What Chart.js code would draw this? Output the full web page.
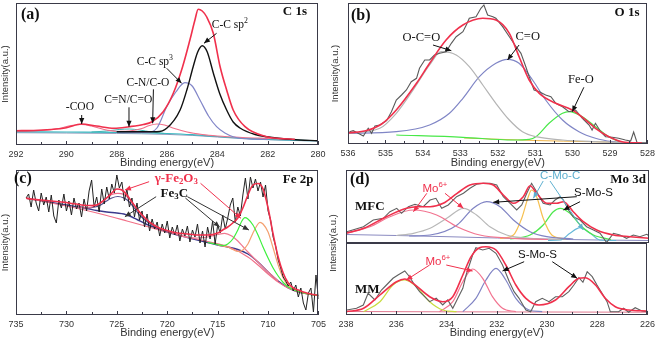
<!DOCTYPE html>
<html>
<head>
<meta charset="utf-8">
<script src="https://cdn.jsdelivr.net/npm/chart.js@4.4.1/dist/chart.umd.min.js"></script>
<style>
  html, body { margin: 0; padding: 0; background: #fff; }
  #wrap { position: relative; width: 659px; height: 340px; overflow: hidden; }
  #wrap canvas { position: absolute; }
  #dTitle {
    position: absolute; left: 293px; top: 237px; width: 80px; height: 12px;
    line-height: 12px; text-align: center; white-space: nowrap;
    font: 9.5px 'Liberation Sans', Arial, sans-serif; color: #333;
    transform: rotate(-90deg);
  }
</style>
</head>
<body>
<div id="wrap">
  <canvas id="cA" width="330" height="170" style="left:0;top:0"></canvas>
  <canvas id="cB" width="329" height="170" style="left:330px;top:0"></canvas>
  <canvas id="cC" width="330" height="175" style="left:0;top:165px"></canvas>
  <canvas id="cD1" width="329" height="78" style="left:330px;top:165px"></canvas>
  <canvas id="cD2" width="329" height="97" style="left:330px;top:243px"></canvas>
  <div id="dTitle">Intensity(a.u.)</div>
</div>
<script>
// ---------- (a) C 1s ----------
const aTicks = [292, 290, 288, 286, 284, 282, 280];
const aMinor = [291, 289, 287, 285, 283, 281];
const aRedE = [292, 291.3, 290.6, 290.0, 289.4, 288.8, 288.1, 287.5, 286.94, 286.61, 286.15, 285.75, 285.38, 285.09, 284.89, 284.76, 284.6, 284.42, 284.16, 283.89, 283.63, 283.37, 282.9, 282.04, 281.5, 280.92];
const aRedI = [13.3, 13.5, 14.5, 16.3, 20, 18, 15.7, 17.3, 19.5, 22, 32.3, 50.7, 77.3, 104, 124, 134.7, 133, 127, 110.7, 77.3, 54, 34, 17.3, 7.3, 5.5, 4.7];
const aSp2E = [288, 287, 286.4, 286, 285.48, 285.2, 284.96, 284.78, 284.6, 284.4, 284.16, 283.9, 283.63, 283.37, 283.1, 282.5, 282.04, 281, 280];
const aSp2I = [12.3, 12.3, 12.3, 16, 34, 55, 77.3, 92, 98.3, 92, 71, 50, 34, 22, 16, 9.5, 7.3, 4.5, 3.3];
const aSp3E = [288, 287.2, 286.81, 286.4, 286.01, 285.65, 285.29, 285, 284.69, 284.35, 284.03, 283.7, 283.37, 283, 282.5, 282];
const aSp3I = [12, 11.6, 11.5, 16, 37.3, 52, 61.3, 58, 44, 28, 17.3, 11, 7.3, 5.5, 4.8, 4.5];
const aCnE = [288, 287.5, 287, 286.7, 286.4, 286.1, 285.7, 285.2, 284.6, 284, 283, 282, 281];
const aCnI = [12.5, 13, 15.5, 18.5, 20, 19, 15.5, 12, 9.5, 8, 6.5, 5.5, 4.5];
const aCooE = [292, 291, 290.3, 289.8, 289.4, 289, 288.5, 288];
const aCooI = [13, 13.5, 15.5, 18.5, 19.5, 18, 14.5, 12.5];
const aCnoE = [289, 288.4, 287.9, 287.5, 287.1, 286.6, 286.1];
const aCnoI = [12, 13, 14.5, 15, 14, 12, 10.5];
const aBgE = [292, 290, 288, 287, 286, 285, 284, 283, 282, 281, 280];
const aBgI = [12.3, 12, 11.7, 11.3, 10.5, 9.3, 7.5, 5.8, 4.7, 3.8, 3.3];
const aBg2I = [11.3, 11, 10.6, 10.2, 9.6, 8.6, 7, 5.4, 4.3, 3.5, 3];

// ---------- (b) O 1s ----------
const bTicks = [536, 535, 534, 533, 532, 531, 530, 529, 528];
const bMinor = [535.5, 534.5, 533.5, 532.5, 531.5, 530.5, 529.5, 528.5];
const bRawE = [535.96, 535.86, 535.73, 535.59, 535.46, 535.37, 535.28, 535.15, 534.97, 534.84, 534.71, 534.57, 534.44, 534.31, 534.17, 534.09, 533.95, 533.82, 533.69, 533.55, 533.38, 533.24, 533.11, 532.93, 532.84, 532.76, 532.58, 532.45, 532.37, 532.27, 532.13, 532.05, 531.87, 531.69, 531.51, 531.38, 531.25, 531.16, 531.03, 530.89, 530.72, 530.58, 530.45, 530.27, 530.10, 529.92, 529.74, 529.56, 529.48, 529.39, 529.25, 529.12, 528.94, 528.77, 528.59, 528.45, 528.37, 528.28, 528.15, 528.01];
const bRawI = [11.3, 12.3, 9.7, 7, 14.7, 9.7, 17, 18, 22.3, 31.3, 43, 48, 53, 61.3, 64.7, 74.7, 83, 83, 88, 89.7, 91.3, 99.7, 106.3, 111.3, 118, 124.7, 126.3, 134.7, 138, 128, 126.3, 124.7, 116.3, 106.3, 96.3, 89.7, 76.3, 66.3, 53, 51.3, 48, 46.3, 39.7, 36.3, 31.3, 33, 24.7, 18, 13, 19.7, 11.3, 6.3, 5.7, 4.7, 3, 2, 11, 0.5, 0.3, 0.3];
const bRedE = [536, 535.5, 535.1, 534.71, 534.17, 533.82, 533.38, 532.93, 532.4, 532.05, 531.69, 531.43, 531.16, 530.89, 530.45, 530.01, 529.65, 529.39, 529.03, 528.68, 528.15];
const bRedI = [10, 12.5, 19, 33, 59.7, 79.7, 103, 118, 124.7, 123, 109.7, 86.3, 63, 49.7, 39.7, 33, 23, 14.7, 6.3, 1.3, 0];
const bOcoE = [536, 535.15, 534.71, 534.26, 533.82, 533.51, 533.11, 532.76, 532.4, 532.05, 531.69, 531.34, 530.98, 530.27, 529.39, 528.5];
const bOcoI = [9.7, 14.7, 29.7, 53, 78, 91.3, 88, 76.3, 58, 39.7, 23, 11.3, 6.3, 3, 1.3, 0.3];
const bCoE = [536, 534.71, 533.82, 533.29, 532.93, 532.49, 532.05, 531.74, 531.43, 531.07, 530.72, 530.27, 529.83, 529.39, 528.94, 528.5];
const bCoI = [9.7, 11.3, 18, 29.7, 44.7, 66.3, 79.7, 83.7, 79.7, 63, 43, 23, 11.3, 4.7, 1.3, 0];
const bFeoE = [534.71, 532.93, 531.6, 531.16, 530.98, 530.63, 530.27, 530.1, 529.74, 529.39, 529.03, 528.68];
const bFeoI = [8, 5.7, 3, 3.7, 6.3, 19.7, 29.7, 31.3, 26.3, 16.3, 6.3, 0.3];
const bBgE = [532.9, 531, 529.5, 528.5];
const bBgI = [5, 2.5, 1.3, 0.5];

// ---------- (c) Fe 2p ----------
const cTicks = [735, 730, 725, 720, 715, 710, 705];
const cMinor = [732.5, 727.5, 722.5, 717.5, 712.5, 707.5];
const cRawE = [734, 733.75, 733.5, 733.25, 733, 732.75, 732.5, 732.25, 732, 731.75, 731.5, 731.25, 731, 730.75, 730.5, 730.25, 730, 729.75, 729.5, 729.25, 729, 728.75, 728.5, 728.25, 728, 727.75, 727.5, 727.25, 727, 726.75, 726.5, 726.25, 726, 725.75, 725.5, 725.25, 725, 724.75, 724.5, 724.25, 724, 723.75, 723.5, 723.25, 723, 722.75, 722.5, 722.25, 722, 721.75, 721.5, 721.25, 721, 720.75, 720.5, 720.25, 720, 719.75, 719.5, 719.25, 719, 718.75, 718.5, 718.25, 718, 717.75, 717.5, 717.25, 717, 716.75, 716.5, 716.25, 716, 715.75, 715.5, 715.25, 715, 714.75, 714.5, 714.25, 714, 713.75, 713.5, 713.25, 713, 712.75, 712.5, 712.25, 712, 711.75, 711.5, 711.25, 711, 710.75, 710.5, 710.25, 710, 709.75, 709.5, 709.25, 709, 708.75, 708.5, 708.25, 708, 707.75, 707.5, 707.25, 707, 706.75, 706.5, 706.25, 706, 705.75, 705.5, 705.25, 705];
const cRawI = [117, 121, 108, 125, 112, 104, 122, 110, 118, 103, 120, 99, 92, 115, 107, 121, 104, 114, 100, 117, 106, 112, 98, 116, 104, 124, 135, 108, 118, 103, 126, 111, 128, 116, 131, 122, 140, 127, 133, 114, 126, 108, 117, 98, 112, 95, 104, 88, 101, 84, 96, 86, 93, 79, 91, 82, 94, 77, 88, 80, 90, 74, 86, 79, 89, 73, 85, 78, 91, 72, 84, 68, 88, 76, 94, 71, 90, 82, 100, 86, 97, 110, 117, 93, 108, 99, 120, 137, 116, 138, 127, 136, 124, 133, 118, 130, 104, 95, 78, 69, 55, 47, 38, 34, 29, 33, 24, 30, 18, 27, 12, 5, 22, 27, 3, 40, 16];
const cRedE = [734, 733.5, 733, 732.5, 732, 731.5, 731, 730.5, 730, 729.5, 729, 728.5, 728, 727.5, 727, 726.5, 726, 725.5, 725, 724.5, 724, 723.5, 723, 722.5, 722, 721.5, 721, 720.5, 720, 719.5, 719, 718.5, 718, 717.5, 717, 716.5, 716, 715.5, 715, 714.5, 714, 713.5, 713, 712.5, 712, 711.5, 711, 710.5, 710, 709.5, 709, 708.5, 708, 707.5, 707, 706.5, 706, 705.5, 705];
const cRedI = [117, 116, 115.5, 115, 114.5, 114, 113.5, 113, 112.5, 111.5, 111, 110, 109.5, 109.5, 110, 113, 117, 122, 126, 125, 120, 113, 106, 100, 95, 91, 88, 86, 84.5, 83, 82, 81.5, 81, 80.5, 80, 80, 80, 80.5, 82, 85, 88, 92, 97, 107, 120, 130, 131.5, 126, 107, 81, 58, 42, 32, 27, 25, 23, 21.5, 20.5, 19.5];
const cBaseE = [734, 732, 730, 728, 727, 726, 725, 724.3, 723.5, 723, 722, 721, 720, 719, 718, 717, 716, 715, 714, 713, 712, 711, 710, 709, 708, 707, 706, 705];
const cBaseI = [116.7, 113.5, 110, 106.5, 104.5, 103, 102, 101, 98, 95.5, 90.5, 86.5, 83, 80, 77.5, 75, 72.5, 70, 68, 65.5, 61, 53, 43, 34, 27, 23, 21, 19.5];
const cBg2E = [734, 732, 730, 728, 726, 724, 722, 720, 718, 716, 714, 712, 711, 710, 709, 708, 707, 706, 705];
const cBg2I = [116.7, 113, 109, 104.5, 99.5, 94, 88.5, 83, 78, 73.5, 68.5, 58, 50, 41, 33, 27, 23, 21, 19.5];
const cP725E = [729, 728, 727.4, 726.6, 726.1, 725.5, 724.9, 724.3, 723.8, 723.2, 722.8, 722.2, 721.8, 721, 720];
const cP725I = [108.5, 107, 108.3, 112, 116.7, 120.5, 121.7, 120.5, 116.7, 109, 103.3, 97, 93.3, 88, 84];
const cN725I = [109.5, 107, 107.5, 110, 113.5, 117, 118.5, 117, 113.5, 106, 100.5, 95, 92, 87.5, 83.5];
const cSatE = [719, 718, 717, 716, 715, 714.3, 713.6, 713, 712.5, 712, 711, 710, 709];
const cSatI = [80, 77.5, 77, 78, 80.5, 81.7, 79, 74, 68.5, 63, 53, 43, 34];
const cGreenE = [716, 715, 714.4, 714, 713.5, 713, 712.6, 712.3, 712, 711.5, 711, 710.5, 710, 709.5, 709, 708.5, 708, 707, 706, 705];
const cGreenI = [72.5, 70.5, 69.5, 71, 76, 85, 94, 97.3, 96, 90, 80, 68, 57, 47, 39, 32.5, 28, 23.5, 21, 19.5];
const cPeachE = [715, 714, 713.5, 713, 712.5, 712, 711.5, 711, 710.8, 710.5, 710, 709.5, 709, 708.5, 708, 707, 706, 705];
const cPeachI = [70, 68, 65.5, 63.5, 65, 71, 82, 91, 92.7, 91, 83, 67, 50, 37, 29, 23.5, 21, 19.5];

// ---------- (d) Mo 3d ----------
const dTicks = [238, 236, 234, 232, 230, 228, 226];
const dMinor = [237, 235, 233, 231, 229, 227];
// MFC
const mfcRawE = [237.97, 237.31, 236.92, 236.52, 236.26, 235.99, 235.8, 235.53, 235.27, 234.94, 234.67, 234.44, 234.21, 233.95, 233.62, 233.35, 233.09, 232.83, 232.56, 232.3, 232.03, 231.77, 231.5, 231.24, 231.04, 230.84, 230.65, 230.45, 230.19, 229.92, 229.72, 229.52, 229.39, 229.19, 229, 228.73, 228.47, 228.2, 227.94, 227.68, 227.41, 227.15, 226.89, 226.62, 226.36, 226.09, 226];
const mfcRawI = [11.3, 16.3, 23, 24.7, 31.3, 34.7, 29.7, 36.3, 38.7, 36.3, 43, 44.7, 34.7, 38, 46.3, 49.7, 54.7, 58.7, 59.7, 59.7, 58, 46.3, 39.7, 33, 38, 49.7, 59.7, 51.3, 39.7, 38, 43, 46.3, 43, 33, 26.3, 23, 16.3, 13, 9.7, 0.5, 9.7, 8, 4.7, 8, 6.3, 8.7, 7.3];
const mfcRedE = [238, 237.3, 236.4, 235.6, 235.2, 234.67, 234.15, 233.6, 233.09, 232.56, 232.17, 231.77, 231.37, 230.98, 230.71, 230.45, 230.05, 229.66, 229.39, 229, 228.6, 228.07, 227.41, 226.75, 226];
const mfcRedI = [9.7, 14.7, 26.3, 34.7, 36.3, 36.3, 39.7, 49.7, 58, 59.7, 58, 48, 39.7, 46.3, 57.3, 49.7, 39.7, 39.7, 41.3, 31.3, 21.3, 13, 8, 6.3, 4.7];
const mfcMo6E = [238, 237.05, 236.26, 235.33, 234.41, 233.6, 232.7, 231.4, 230];
const mfcMo6I = [9.7, 16.3, 26.3, 33, 28, 16.3, 8, 4.7, 3.5];
const mfcMo6bE = [236, 235.33, 234.67, 234.01, 233.35, 232.83, 232.3, 231.64, 230.71, 229.5];
const mfcMo6bI = [7.5, 9.7, 14.7, 24.7, 34.7, 28, 16.3, 8, 4.7, 3.5];
const mfcSmsE = [235.5, 234.67, 233.6, 232.96, 232.43, 231.9, 231.37, 230.71, 230.05, 229];
const mfcSmsI = [7, 8, 18, 34.7, 41.3, 36.3, 23, 11.3, 6.3, 4];
const mfcCmcE = [231.9, 231.37, 231.04, 230.78, 230.65, 230.45, 230.19, 229.85, 229.3];
const mfcCmcI = [4.5, 8, 24.7, 46.3, 53, 46.3, 24.7, 8, 4];
const mfcGreenE = [231.5, 230.71, 230.19, 229.79, 229.52, 229.13, 228.73, 228.2, 227.5];
const mfcGreenI = [4, 8, 18, 31.3, 34.7, 29.7, 18, 8, 3.5];
const mfcCyanE = [230, 229.5, 229.13, 228.73, 228.33, 227.94, 227.3];
const mfcCyanI = [2.5, 3, 9.7, 15.3, 9.7, 3, 2.5];
const mfcBgE = [238, 236, 234, 232, 230, 228, 226];
const mfcBgI = [8.5, 7.5, 6.3, 5, 3.8, 3, 2.5];
// MM
const mmRawE = [237.97, 237.58, 237.31, 237.12, 236.85, 236.59, 236.39, 236.13, 235.93, 235.66, 235.47, 235.27, 235.07, 234.87, 234.67, 234.41, 234.15, 233.95, 233.75, 233.55, 233.35, 233.22, 233.09, 232.96, 232.83, 232.56, 232.3, 232.03, 231.77, 231.5, 231.31, 231.11, 230.84, 230.65, 230.45, 230.19, 229.92, 229.66, 229.39, 229.13, 228.93, 228.73, 228.57, 228.4, 228.2, 228.01, 227.81, 227.61, 227.48, 227.15, 226.95, 226.75, 226.49, 226.22, 226];
const mmRawI = [5, 6.7, 10, 21.7, 15, 25, 30, 36.7, 40, 44, 38.3, 30, 23.3, 18.3, 13.3, 16.7, 10, 15, 6.7, 16.7, 26.7, 40, 50, 60, 67.3, 65, 66.7, 61.7, 50, 33.3, 23.3, 16.7, 5, 3.3, 13.3, 16.7, 13.3, 18.3, 18.3, 23.3, 30, 37.3, 32.7, 43.3, 38.3, 30, 21.7, 13.3, 3.3, 3.3, 6.7, 2.7, 7.3, 4, 3.3];
const mmRedE = [238, 237.3, 236.65, 235.99, 235.66, 235.33, 234.67, 234.15, 233.75, 233.35, 233.02, 232.69, 232.43, 232.03, 231.64, 231.24, 230.84, 230.32, 229.66, 229.13, 228.73, 228.47, 228.07, 227.68, 227.28, 226.75, 226];
const mmRedI = [3.3, 6.7, 20, 33.3, 36, 31.7, 18.3, 13.3, 18.3, 40, 58.3, 67.3, 68.3, 65, 50, 30, 16.7, 10, 15, 28.3, 36.7, 37.3, 30, 16.7, 8.3, 5, 4];
const mmMo6aE = [237.3, 236.65, 236.13, 235.66, 235.2, 234.67, 234.15, 233.6];
const mmMo6aI = [3.3, 13.3, 30, 35, 28.3, 13.3, 5, 3.3];
const mmMo6bE = [234.28, 233.75, 233.35, 232.96, 232.56, 232.17, 231.77, 231.24];
const mmMo6bI = [3.3, 13.3, 33.3, 46, 36.7, 18.3, 6.7, 3.3];
const mmSmsE = [233.35, 232.83, 232.43, 232.03, 231.64, 231.24, 230.71, 230.19];
const mmSmsI = [3.3, 16.7, 35, 46.7, 35, 16.7, 5, 3.3];
const mmBgE = [238, 234, 230, 226];
const mmBgI = [3.5, 3.2, 3, 2.8];

const AXIS = '#3a3a48';
const SANS = "'Liberation Sans', Arial, sans-serif";
const SERIF = "'Liberation Serif', 'Times New Roman', serif";
Chart.defaults.font.family = SANS;

// split "Fe_3C", "sp^3", "Mo^{6+}" into plain / sub / sup runs
function richParts(str) {
  const parts = [];
  let i = 0;
  while (i < str.length) {
    const c = str[i];
    if (c === '_' || c === '^') {
      let s;
      if (str[i + 1] === '{') { const j = str.indexOf('}', i); s = str.slice(i + 2, j); i = j + 1; }
      else { s = str[i + 1]; i += 2; }
      parts.push({ s, k: c === '_' ? 'sub' : 'sup' });
    } else {
      let j = i;
      while (j < str.length && str[j] !== '_' && str[j] !== '^') j++;
      parts.push({ s: str.slice(i, j), k: '' });
      i = j;
    }
  }
  return parts;
}

function drawRich(ctx, str, x, y, f, color, align) {
  const parts = richParts(str);
  const fontOf = p => `${f.weight || 'normal'} ${p.k ? f.size * 0.68 : f.size}px ${f.family}`;
  let w = 0;
  parts.forEach(p => { ctx.font = fontOf(p); p.w = ctx.measureText(p.s).width; w += p.w; });
  let cx = align === 'left' ? x : align === 'right' ? x - w : x - w / 2;
  ctx.fillStyle = color;
  ctx.textBaseline = 'middle';
  ctx.textAlign = 'left';
  parts.forEach(p => {
    ctx.font = fontOf(p);
    const dy = p.k === 'sub' ? f.size * 0.28 : p.k === 'sup' ? -f.size * 0.32 : 0;
    ctx.fillText(p.s, cx, y + dy);
    cx += p.w;
  });
}

function arrow(ctx, x1, y1, x2, y2, color, head) {
  ctx.strokeStyle = color;
  ctx.fillStyle = color;
  ctx.lineWidth = 1;
  ctx.beginPath(); ctx.moveTo(x1, y1); ctx.lineTo(x2, y2); ctx.stroke();
  if (!head) return;
  const a = Math.atan2(y2 - y1, x2 - x1);
  const L = 6, W = 2.6;
  ctx.beginPath();
  ctx.moveTo(x2, y2);
  ctx.lineTo(x2 - L * Math.cos(a) + W * Math.sin(a), y2 - L * Math.sin(a) - W * Math.cos(a));
  ctx.lineTo(x2 - L * Math.cos(a) - W * Math.sin(a), y2 - L * Math.sin(a) + W * Math.cos(a));
  ctx.closePath();
  ctx.fill();
}

// box frame, inward ticks, labels and arrows
const decor = {
  id: 'decor',
  afterDatasetsDraw(chart, args, o) {
    const { ctx, chartArea: a } = chart;
    const sx = chart.scales.x, sy = chart.scales.y;
    const L = Math.round(a.left), T = Math.round(a.top), R = Math.round(a.right), B = Math.round(a.bottom);
    ctx.save();
    ctx.strokeStyle = AXIS;
    ctx.lineWidth = 1;
    ctx.strokeRect(L + 0.5, T + 0.5, R - L - 1, B - T - 1);
    if (o.ticks) {
      ctx.beginPath();
      o.ticks.forEach(v => { const p = Math.round(sx.getPixelForValue(v)) + 0.5; ctx.moveTo(p, B); ctx.lineTo(p, B - 4); });
      (o.minor || []).forEach(v => { const p = Math.round(sx.getPixelForValue(v)) + 0.5; ctx.moveTo(p, B); ctx.lineTo(p, B - 3); });
      ctx.stroke();
    }
    (o.arrows || []).forEach(r => {
      arrow(ctx, sx.getPixelForValue(r.from[0]), sy.getPixelForValue(r.from[1]),
        sx.getPixelForValue(r.to[0]), sy.getPixelForValue(r.to[1]), r.color || '#111', r.head !== false);
    });
    (o.notes || []).forEach(n => {
      drawRich(ctx, n.t, sx.getPixelForValue(n.x), sy.getPixelForValue(n.y), n.f, n.color || '#111', 'center');
    });
    (o.corner || []).forEach(c => {
      const x = c.align === 'right' ? a.right - c.dx : a.left + c.dx;
      drawRich(ctx, c.t, x, a.top + c.dy, c.f, c.color || '#111', c.align);
    });
    ctx.restore();
  }
};

const serif = (size, weight) => ({ size, weight: weight || 'normal', family: SERIF });
const sans = size => ({ size, weight: 'normal', family: SANS });

function panel(id, p) {
  const datasets = p.series.map(s => ({
    data: s.xs.map((x, i) => ({ x, y: s.ys[i] })),
    borderColor: s.color,
    borderWidth: s.w || 1,
    pointRadius: 0,
    fill: false,
    tension: s.raw ? 0 : 0.4,
    cubicInterpolationMode: s.raw ? 'default' : 'monotone'
  }));
  const showX = p.showX !== false;
  return new Chart(document.getElementById(id), {
    type: 'line',
    data: { datasets },
    plugins: [decor],
    options: {
      responsive: false,
      animation: false,
      devicePixelRatio: 1,
      layout: { padding: { left: 0, top: p.padTop, right: p.padRight, bottom: 0 } },
      plugins: {
        legend: { display: false },
        tooltip: { enabled: false },
        decor: {
          ticks: showX ? p.ticks : null, minor: p.minor,
          notes: p.notes, arrows: p.arrows, corner: p.corner
        }
      },
      scales: {
        x: {
          type: 'linear', reverse: true, min: p.xMin, max: p.xMax, display: showX,
          grid: { display: false, drawTicks: false },
          border: { display: false },
          afterBuildTicks: s => { s.ticks = p.ticks.map(v => ({ value: v })); },
          // hidden axis keeps zero height so the plot fills the canvas
          afterFit: s => { s.height = showX ? (p.xHeight || 25) : 0; },
          ticks: { color: '#333', font: { size: 9 }, padding: 4, maxRotation: 0, autoSkip: false },
          title: { display: true, text: 'Binding energy(eV)', color: '#333', font: { size: 11 }, padding: { top: 0, bottom: 0 } }
        },
        y: {
          type: 'linear', min: p.yMin || 0, max: p.yMax,
          grid: { display: false, drawTicks: false },
          border: { display: false },
          ticks: { display: false },
          afterFit: s => { s.width = p.yWidth; },
          title: { display: p.yTitle !== false, text: 'Intensity(a.u.)', color: '#333', font: { size: 9.5 }, padding: { top: 0, bottom: 0 } }
        }
      }
    }
  });
}

const RED = '#f0304c';

// (a)
panel('cA', {
  xMin: 280, xMax: 292, yMin: -1, yMax: 141, padTop: 3, padRight: 12, yWidth: 16, xHeight: 25,
  ticks: aTicks, minor: aMinor,
  series: [
    { xs: aRedE, ys: aRedI, color: RED, w: 1.6 },
    { xs: aSp2E, ys: aSp2I, color: '#111111', w: 1.4 },
    { xs: aSp3E, ys: aSp3I, color: '#8286c8', w: 1.2 },
    { xs: aCnE, ys: aCnI, color: '#f2708a', w: 1.2 },
    { xs: aCooE, ys: aCooI, color: '#f06a86', w: 1.2 },
    { xs: aCnoE, ys: aCnoI, color: '#40b4b4', w: 1 },
    { xs: aBgE, ys: aBgI, color: '#38b8c0', w: 1.2 },
    { xs: aBgE, ys: aBg2I, color: '#8c96b8', w: 1 }
  ],
  notes: [
    { t: 'C-C sp^2', x: 283.5, y: 119, f: serif(11.5) },
    { t: 'C-C sp^3', x: 286.48, y: 82.3, f: serif(11.5) },
    { t: 'C-N/C-O', x: 286.76, y: 60.7, f: serif(11.5) },
    { t: 'C=N/C=O', x: 287.54, y: 44, f: serif(11.5) },
    { t: '-COO', x: 289.46, y: 36.7, f: serif(11.5) }
  ],
  arrows: [
    { from: [284.03, 110.7], to: [284.53, 100.7] },
    { from: [286.01, 75.7], to: [285.42, 60.7] },
    { from: [286.54, 54.7], to: [286.57, 20.7] },
    { from: [287.51, 36.7], to: [287.51, 17.3] },
    { from: [289.39, 29], to: [289.39, 20] }
  ],
  corner: [
    { t: '(a)', dx: 5, dy: 12, f: serif(16, 'bold'), align: 'left' },
    { t: 'C 1s', dx: 11, dy: 9, f: serif(13, 'bold'), align: 'right' }
  ]
});

// (b)
panel('cB', {
  xMin: 528, xMax: 536, yMin: -1, yMax: 140, padTop: 3, padRight: 10, yWidth: 18, xHeight: 26,
  ticks: bTicks, minor: bMinor,
  series: [
    { xs: bRedE, ys: bRedI, color: RED, w: 1.6 },
    { xs: bRawE, ys: bRawI, color: '#5a5a5a', w: 1.1, raw: true },
    { xs: bOcoE, ys: bOcoI, color: '#b4b4b4', w: 1.2 },
    { xs: bCoE, ys: bCoI, color: '#8086c6', w: 1.2 },
    { xs: bFeoE, ys: bFeoI, color: '#48e848', w: 1.2 },
    { xs: bBgE, ys: bBgI, color: '#f0b448', w: 1 }
  ],
  notes: [
    { t: 'O-C=O', x: 534.04, y: 105, f: serif(12.5) },
    { t: 'C=O', x: 531.2, y: 106, f: serif(12.5) },
    { t: 'Fe-O', x: 529.78, y: 63, f: serif(12.5) }
  ],
  arrows: [
    { from: [533.73, 98], to: [533.24, 92.3] },
    { from: [531.43, 98], to: [531.74, 83] },
    { from: [529.7, 55.7], to: [530.01, 31.3] }
  ],
  corner: [
    { t: '(b)', dx: 3, dy: 13, f: serif(16, 'bold'), align: 'left' },
    { t: 'O 1s', dx: 8, dy: 10, f: serif(13, 'bold'), align: 'right' }
  ]
});

// (c)
panel('cC', {
  xMin: 705, xMax: 735, yMin: 0, yMax: 145, padTop: 5, padRight: 10, yWidth: 16, xHeight: 25,
  ticks: cTicks, minor: cMinor,
  series: [
    { xs: cRedE, ys: cRedI, color: RED, w: 1.6 },
    { xs: cRawE, ys: cRawI, color: '#222222', w: 1, raw: true },
    { xs: cP725E, ys: cP725I, color: '#f06c8c', w: 1.2 },
    { xs: cP725E, ys: cN725I, color: '#54508e', w: 1.2 },
    { xs: cGreenE, ys: cGreenI, color: '#3ef03e', w: 1.2 },
    { xs: cPeachE, ys: cPeachI, color: '#f4a070', w: 1.2 },
    { xs: cSatE, ys: cSatI, color: '#f07890', w: 1.2 },
    { xs: cBg2E, ys: cBg2I, color: '#f27088', w: 1.2 },
    { xs: cBaseE, ys: cBaseI, color: '#3c3a8c', w: 1.4 }
  ],
  notes: [
    { t: 'γ-Fe_2O_3', x: 719.1, y: 136.7, f: serif(13, 'bold'), color: '#f0304c' },
    { t: 'Fe_3C', x: 719.3, y: 121.7, f: serif(13, 'bold') }
  ],
  arrows: [
    { from: [721.8, 133.3], to: [724.2, 125], color: '#f0304c' },
    { from: [716.7, 131.7], to: [712.7, 96.7], color: '#f0304c' },
    { from: [721.1, 118.3], to: [724.2, 98.3], color: '#333' },
    { from: [718.2, 117], to: [714.8, 88], color: '#333' },
    { from: [718, 118.3], to: [711.9, 85], color: '#333' }
  ],
  corner: [
    { t: '(c)', dx: -2, dy: 9, f: serif(16, 'bold'), align: 'left' },
    { t: 'Fe 2p', dx: 5, dy: 10, f: serif(13, 'bold'), align: 'right' }
  ]
});

// (d) MFC, upper half
panel('cD1', {
  xMin: 226, xMax: 238, yMin: 0, yMax: 73, padTop: 5, padRight: 10, yWidth: 16, showX: false, yTitle: false,
  ticks: dTicks, minor: dMinor,
  series: [
    { xs: mfcRedE, ys: mfcRedI, color: RED, w: 1.6 },
    { xs: mfcRawE, ys: mfcRawI, color: '#606060', w: 1.1, raw: true },
    { xs: mfcMo6E, ys: mfcMo6I, color: '#f27490', w: 1.2 },
    { xs: mfcMo6bE, ys: mfcMo6bI, color: '#b8b8b8', w: 1.2 },
    { xs: mfcSmsE, ys: mfcSmsI, color: '#8084c4', w: 1.2 },
    { xs: mfcCmcE, ys: mfcCmcI, color: '#f6c050', w: 1.2 },
    { xs: mfcGreenE, ys: mfcGreenI, color: '#4ee84e', w: 1.2 },
    { xs: mfcCyanE, ys: mfcCyanI, color: '#66b8d8', w: 1.2 },
    { xs: mfcBgE, ys: mfcBgI, color: '#8a8ac0', w: 1 }
  ],
  notes: [
    { t: 'Mo^{6+}', x: 234.48, y: 54, f: sans(11.5), color: '#f0304c' },
    { t: 'C-Mo-C', x: 229.52, y: 67, f: sans(11.5), color: '#5fb0d0' },
    { t: 'S-Mo-S', x: 228.2, y: 49.7, f: sans(11.5) }
  ],
  arrows: [
    { from: [234.8, 49.7], to: [235.33, 31.3], color: '#f0304c' },
    { from: [234.08, 49.7], to: [233.35, 34.7], color: '#f0304c' },
    { from: [230.19, 62], to: [230.58, 44.7], color: '#5fb0d0' },
    { from: [229.92, 62], to: [228.6, 13], color: '#5fb0d0' },
    { from: [228.86, 46.3], to: [232.17, 40.7] },
    { from: [228.73, 41.3], to: [229.39, 33] }
  ],
  corner: [
    { t: '(d)', dx: 4, dy: 10, f: serif(16, 'bold'), align: 'left' },
    { t: 'Mo 3d', dx: 3, dy: 10, f: serif(13, 'bold'), align: 'right' },
    { t: 'MFC', dx: 9, dy: 37, f: serif(13, 'bold'), align: 'left' }
  ]
});

// (d) MM, lower half
panel('cD2', {
  xMin: 226, xMax: 238, yMin: 0, yMax: 72, padTop: 0, padRight: 10, yWidth: 16, yTitle: false, xHeight: 25,
  ticks: dTicks, minor: dMinor,
  series: [
    { xs: mmRedE, ys: mmRedI, color: RED, w: 1.6 },
    { xs: mmRawE, ys: mmRawI, color: '#606060', w: 1.1, raw: true },
    { xs: mmMo6aE, ys: mmMo6aI, color: '#c8dc40', w: 1.2 },
    { xs: mmMo6bE, ys: mmMo6bI, color: '#f27490', w: 1.2 },
    { xs: mmSmsE, ys: mmSmsI, color: '#8084c4', w: 1.2 },
    { xs: mmBgE, ys: mmBgI, color: '#e07890', w: 1 }
  ],
  notes: [
    { t: 'Mo^{6+}', x: 234.34, y: 53.3, f: sans(11.5), color: '#f0304c' },
    { t: 'S-Mo-S', x: 230.38, y: 60, f: sans(11.5) }
  ],
  arrows: [
    { from: [234.67, 50], to: [235.6, 35], color: '#f0304c' },
    { from: [234.01, 50], to: [232.96, 44], color: '#f0304c' },
    { from: [230.91, 53.3], to: [231.77, 44] },
    { from: [229.79, 53.3], to: [228.8, 36.7] }
  ],
  corner: [
    { t: 'MM', dx: 9, dy: 47, f: serif(13, 'bold'), align: 'left' }
  ]
});
</script>
</body>
</html>
